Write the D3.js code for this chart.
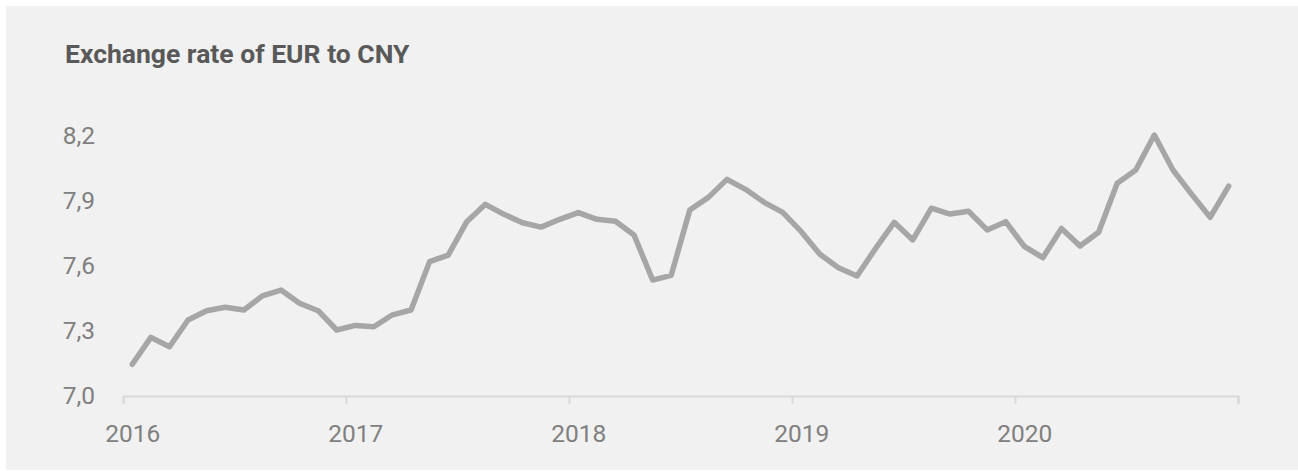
<!DOCTYPE html>
<html>
<head>
<meta charset="utf-8">
<script src="https://cdn.jsdelivr.net/npm/d3@7"></script>
<style>
  html, body { margin: 0; padding: 0; background: #ffffff; }
  svg { display: block; }
</style>
</head>
<body>
<svg id="chart" width="1298" height="471"></svg>
<script>
// Monthly EUR→CNY exchange rate, Jan 2016 – Dec 2020
const years = [2016, 2017, 2018, 2019, 2020];
const rate2016 = [7.146, 7.270, 7.227, 7.350, 7.393, 7.409, 7.396, 7.461, 7.488, 7.427, 7.393, 7.304];
const rate2017 = [7.325, 7.319, 7.374, 7.396, 7.619, 7.649, 7.803, 7.883, 7.837, 7.798, 7.778, 7.814];
const rate2018 = [7.845, 7.814, 7.805, 7.742, 7.534, 7.556, 7.857, 7.915, 7.998, 7.952, 7.892, 7.846];
const rate2019 = [7.757, 7.653, 7.591, 7.553, 7.680, 7.800, 7.719, 7.865, 7.838, 7.851, 7.765, 7.803];
const rate2020 = [7.689, 7.637, 7.772, 7.691, 7.754, 7.980, 8.041, 8.202, 8.041, 7.930, 7.823, 7.967];
const yTicks = [7.0, 7.3, 7.6, 7.9, 8.2];
const titleText = "Exchange rate of EUR to CNY";

const rates = [].concat(rate2016, rate2017, rate2018, rate2019, rate2020);
const data = rates.map((v, i) => ({ month: i, value: v }));

const svg = d3.select("#chart");
const W = 1298;
const FONT = "Roboto, 'DejaVu Sans', sans-serif";

// panel background
svg.append("rect")
  .attr("x", 6).attr("y", 6)
  .attr("width", W - 6).attr("height", 464)
  .attr("fill", "#f1f1f1");

// title
svg.append("text")
  .attr("x", 65).attr("y", 63)
  .attr("font-family", FONT)
  .attr("font-weight", 700)
  .attr("font-size", 26.5)
  .attr("fill", "#595959")
  .text(titleText);

// scales: month index along x (ticks at year starts, points at month centres)
const x = d3.scaleLinear().domain([0, years.length * 12]).range([123, 1238]);
const y = d3.scaleLinear().domain([7.0, 8.2]).range([396, 135.5]);
const halfMonth = x(0.5) - x(0);

const locale = d3.formatLocale({ decimal: ",", thousands: ".", grouping: [3], currency: ["", "€"] });
const fmt = locale.format(".1f");

// y labels (no axis line)
const yAxis = d3.axisLeft(y).tickValues(yTicks).tickFormat(fmt).tickSize(0).tickPadding(0);
const gy = svg.append("g").attr("transform", "translate(95,0)").call(yAxis);
gy.select(".domain").remove();
gy.selectAll("text")
  .attr("font-family", FONT)
  .attr("font-weight", 400)
  .attr("font-size", 24.5)
  .attr("fill", "#808080");

// x axis
const xTickVals = d3.range(0, years.length * 12 + 1, 12);
const xAxis = d3.axisBottom(x)
  .tickValues(xTickVals)
  .tickFormat((d, i) => i < years.length ? String(years[i]) : "")
  .tickSizeOuter(0)
  .tickSize(8)
  .tickPadding(21);
const gx = svg.append("g").attr("transform", "translate(0,396)").call(xAxis);
gx.select(".domain").attr("stroke", "#d9d9d9").attr("stroke-width", 2);
gx.selectAll(".tick line").attr("stroke", "#d9d9d9").attr("stroke-width", 2);
gx.selectAll(".tick text")
  .attr("x", halfMonth)
  .attr("font-family", FONT)
  .attr("font-weight", 400)
  .attr("font-size", 24.5)
  .attr("fill", "#808080");

// rate line
const line = d3.line()
  .x(d => x(d.month + 0.5))
  .y(d => y(d.value));

svg.append("path")
  .datum(data)
  .attr("d", line)
  .attr("fill", "none")
  .attr("stroke", "#a6a6a6")
  .attr("stroke-width", 5.5)
  .attr("stroke-linejoin", "round")
  .attr("stroke-linecap", "round");
</script>
</body>
</html>
